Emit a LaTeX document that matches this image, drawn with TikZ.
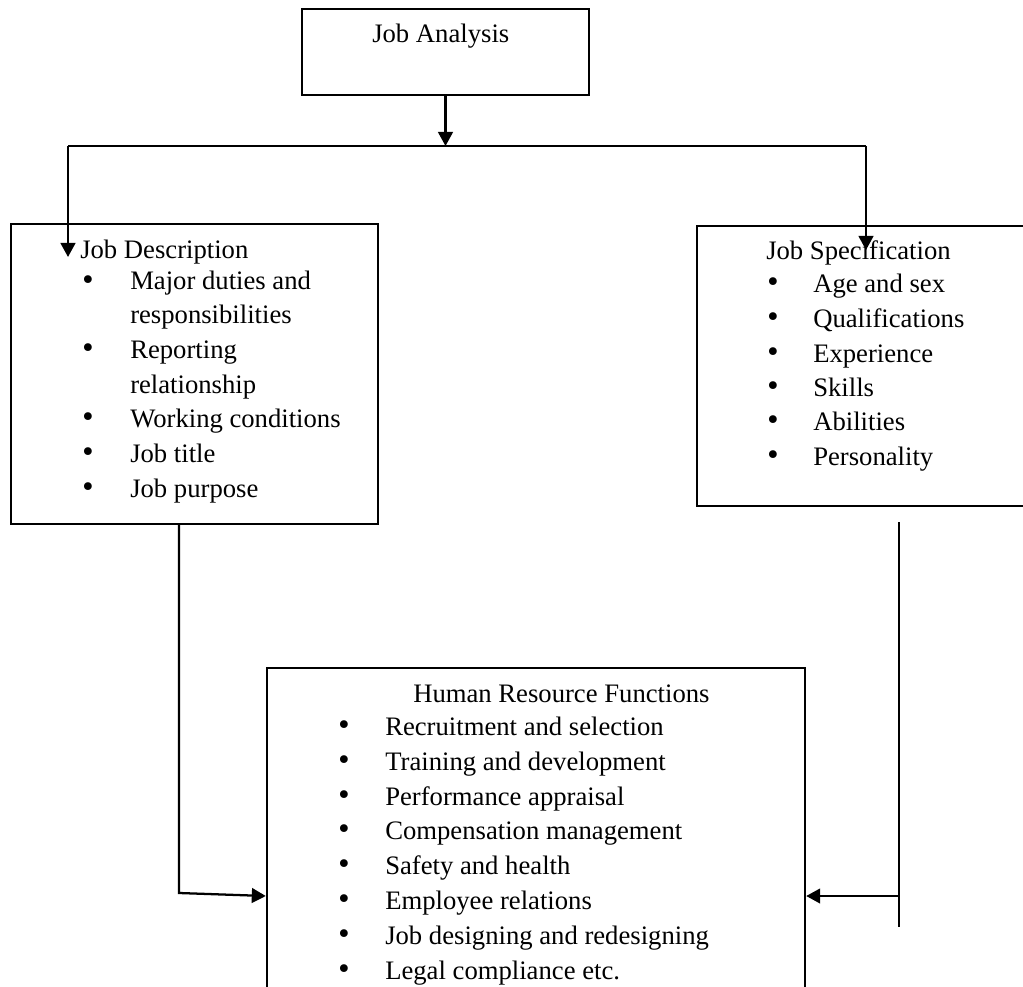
\documentclass[tikz,border=0pt]{standalone}
\usepackage{fontspec}
\setmainfont{Liberation Serif}
\newfontfamily\bulfont{DejaVu Sans}
\usetikzlibrary{arrows.meta,fit}
\begin{document}
\begin{tikzpicture}[x=0.75pt,y=-0.75pt,
  box/.style={draw, line width=1.8pt, inner sep=0pt, rectangle},
  txt/.style={anchor=base west, inner sep=0pt, font=\fontsize{20}{24}\selectfont},
  bul/.style={anchor=center, inner sep=0pt, font=\bulfont\fontsize{20}{20}\selectfont},
  conn/.style={line width=1.7pt},
  arr/.style={conn, -{Triangle[length=10.5pt,width=11pt]}}
]
\clip (0,0) rectangle (1023,987);
\fill[white] (0,0) rectangle (1023,987);
% boxes
\node[box, fit={(302,9) (589,95)}] (ja) {};
\node[box, fit={(11,224) (378,524)}] (jd) {};
\node[box, fit={(697,226) (1040,506)}] (js) {};
\node[box, fit={(267,668) (805,1000)}] (hrf) {};
% texts
\node[txt] (tja) at (372,43) {Job Analysis};
\node[txt] (tjd) at (80,259) {Job Description};
\foreach \y/\t [count=\i] in {290/Major duties and, 323/responsibilities, 358/Reporting, 393/relationship, 427/Working conditions, 462/Job title, 497/Job purpose}
  \node[txt] (jd\i) at (130,\y) {\t};
\foreach \y [count=\i] in {290,358,427,462,497}
  \node[bul] (jdb\i) at (88,\y-7) {•};
\node[txt] (tjs) at (766,260) {Job Specification};
\foreach \y/\t [count=\i] in {292/Age and sex, 327/Qualifications, 362/Experience, 396/Skills, 430/Abilities, 465/Personality}
  {\node[txt] (js\i) at (813,\y) {\t};
   \node[bul] (jsb\i) at (773,\y-7) {•};}
\node[txt] (thr) at (413,702) {Human Resource Functions};
\foreach \y/\t [count=\i] in {735/Recruitment and selection, 770/Training and development, 805/Performance appraisal, 839/Compensation management, 874/Safety and health, 909/Employee relations, 944/Job designing and redesigning, 979/Legal compliance etc.}
  {\node[txt] (hr\i) at (385,\y) {\t};
   \node[bul] (hrb\i) at (344,\y-7) {•};}
% connectors
\coordinate (jun) at (445.5,146);
\coordinate (hl) at (68,146);
\coordinate (hrt) at (866,146);
\coordinate (jdtip) at (68,257);
\coordinate (jstip) at (866,250);
\draw[arr] (ja.south) -- (jun);
\draw[conn] (hl) -- (hrt);
\draw[arr] (hl) -- (jdtip);
\draw[arr] (hrt) -- (jstip);
\coordinate (jdout) at (179,524);
\coordinate (jdcorner) at (179,893);
\draw[arr] (jdout) -- (jdcorner) -- (hrf.west |- 0,896);
\coordinate (rtop) at (899,522);
\coordinate (rbot) at (899,927);
\coordinate (rmid) at (899,896);
\draw[conn] (rtop) -- (rbot);
\draw[arr] (rmid) -- (hrf.east |- rmid);
\end{tikzpicture}
\end{document}
